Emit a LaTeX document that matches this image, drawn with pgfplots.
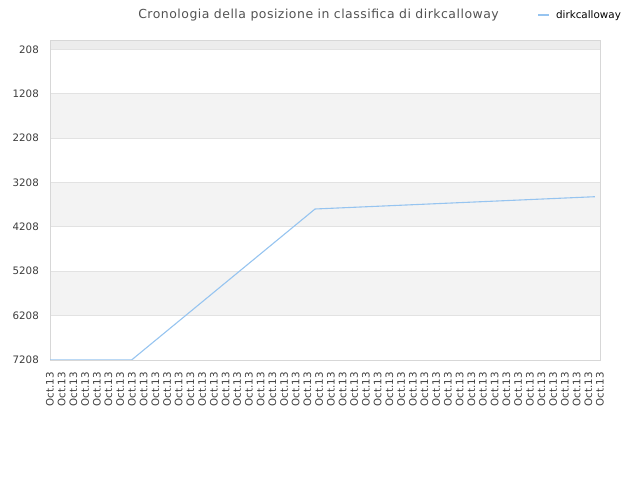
\documentclass[border=0pt]{standalone}
\usepackage{fontspec}
\setmainfont{DejaVu Sans}
\newfontfamily\titlefont[LetterSpace=4]{DejaVu Sans}
\usepackage{pgfplots}
\pgfplotsset{compat=1.18}
\definecolor{linecol}{RGB}{150,196,240}
\definecolor{band}{RGB}{243,243,243}
\definecolor{topband}{RGB}{236,236,236}
\definecolor{framec}{RGB}{215,215,215}
\definecolor{gridc}{RGB}{226,226,226}
\definecolor{ticktext}{RGB}{60,60,60}

\begin{document}
\begin{tikzpicture}
\path (0bp,0bp) rectangle (640bp,480bp);
\node[font=\titlefont\fontsize{12.5}{15}\selectfont, text=black!68, anchor=base, inner sep=0pt]
  at (318.5bp,461.7bp) {Cronologia della posizione in classifica di dirkcalloway};
\begin{axis}[
    set layers,
    at={(50bp,120bp)}, anchor=south west,
    scale only axis, width=550bp, height=319.3bp,
    xmin=0, xmax=47, ymin=14, ymax=7208,
    y dir=reverse,
    xtick={0,...,47}, xticklabel={Oct.13},
    ytick={208,1208,2208,3208,4208,5208,6208,7208},
    yticklabels={208,1208,2208,3208,4208,5208,6208,7208},
    major tick length=0pt,
    ymajorgrids, grid style={gridc, line width=0.8bp},
    axis line style={framec, line width=0.9bp},
    tick label style={font=\fontsize{10.3}{12}\selectfont, text=ticktext},
    xticklabel style={rotate=90, anchor=east, inner sep=0pt},
    yticklabel style={anchor=east, inner sep=0pt},
    xticklabel shift=12bp, yticklabel shift=11bp,
    legend style={draw=none, fill=none, inner sep=0pt, anchor=west,
      at={(0.8855,1.0805)}, font=\fontsize{10.4}{12}\selectfont,
      legend cell align=left},
    legend image code/.code={\draw[#1, line width=1.6bp] (0bp,0bp) -- (11bp,0bp);
      \path (15.5bp,0bp);},
  ]
  \addplot[linecol, line width=1.1bp] coordinates {
    (0,7208) (6.97,7208) (22.65,3806) (46.57,3529)
  };
  \legend{dirkcalloway}
  \pgfplotsextra{
    \begin{pgfonlayer}{axis background}
      \fill[topband] (axis cs:0,14) rectangle (axis cs:47,208);
      \fill[band] (axis cs:0,1208) rectangle (axis cs:47,2208);
      \fill[band] (axis cs:0,3208) rectangle (axis cs:47,4208);
      \fill[band] (axis cs:0,5208) rectangle (axis cs:47,6208);
    \end{pgfonlayer}
  }
\end{axis}
\end{tikzpicture}
\end{document}
